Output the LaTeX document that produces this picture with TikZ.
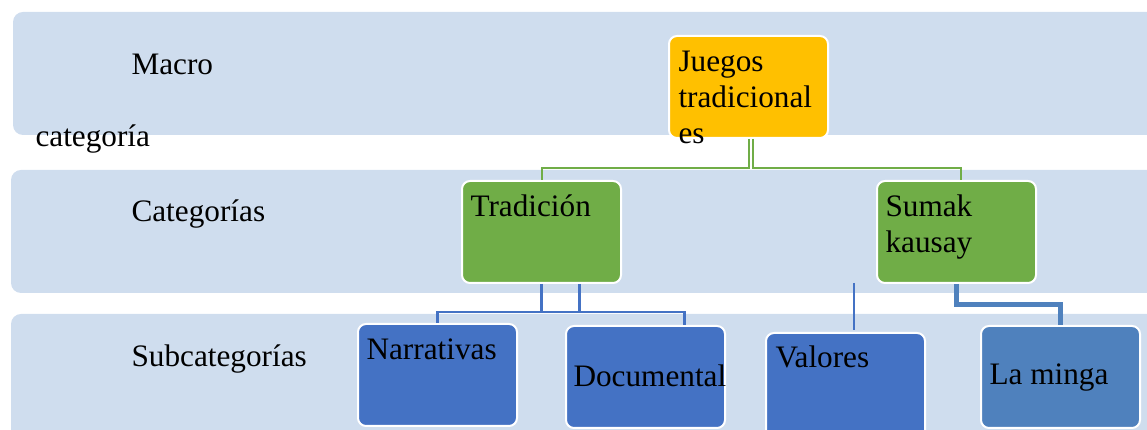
\documentclass[tikz,border=0pt]{standalone}
\usepackage{fontspec}
\setmainfont{Liberation Serif}
\newfontfamily\timesfont{Liberation Serif}
\usetikzlibrary{positioning}
\definecolor{bandblue}{HTML}{CFDDEE}
\definecolor{gold}{HTML}{FFC000}
\definecolor{leaf}{HTML}{70AD47}
\definecolor{royal}{HTML}{4472C4}
\definecolor{steel}{HTML}{4F81BD}

\begin{document}
\begin{tikzpicture}[
    x=0.4pt, y=-0.4pt,
    font=\timesfont\fontsize{12.5}{14.4}\selectfont,
    band/.style = {fill=bandblue, rounded corners=4pt},
    box/.style = {draw=white, line width=0.8pt, rounded corners=3.2pt, minimum width=63.6pt, minimum height=40.8pt, inner sep=0pt, anchor=north west},
    txt/.style = {inner sep=0pt, anchor=base west},
    gline/.style = {draw=leaf, line width=0.8pt},
    bline/.style = {draw=royal, line width=0.9pt},
    mline/.style = {draw=steel, line width=2pt}
  ]
  \useasboundingbox (0,0) rectangle (1147,430);
  % franjas de fondo
  \fill[band] (13,12) rectangle (1170,135);
  \fill[band] (11,170) rectangle (1170,293);
  \fill[band] (11,314) rectangle (1170,450);
  \node[txt] (lmacro) at (131,75) {Macro};
  \node[txt] (lcat) at (35,147) {categoría};
  \node[txt] (lcats) at (131,222) {Categorías};
  \node[txt] (lsub) at (131,367) {Subcategorías};
  % cajas
  \node[box, fill=gold] (juegos) at (668,35) {};
  \node[box, fill=leaf] (trad) at (461,180) {};
  \node[box, fill=leaf] (sumak) at (876,180) {};
  \node[box, fill=royal] (narr) at (357,323) {};
  \node[box, fill=royal] (doc) at (565,325) {};
  \node[box, fill=royal, minimum height=44pt] (valores) at (765,332) {};
  \node[box, fill=steel] (minga) at (980,325) {};
  % textos de las cajas
  \node[txt] at ([shift={(10,37)}]juegos.north west) {\parbox[t]{80pt}{Juegos\\tradicional\\es}};
  \node[txt] at ([shift={(9,37)}]trad.north west) {Tradición};
  \node[txt] at ([shift={(9,37)}]sumak.north west) {\parbox[t]{80pt}{Sumak\\kausay}};
  \node[txt] at ([shift={(9,37)}]narr.north west) {Narrativas};
  \node[txt] at ([shift={(8,62)}]doc.north west) {Documental};
  \node[txt] at ([shift={(10,36)}]valores.north west) {Valores};
  \node[txt] at ([shift={(9,60)}]minga.north west) {La minga};
  % conectores
  \draw[gline] (juegos.south) -- ++(0,29) -| (trad.north);
  \draw[gline] ([xshift=1.6pt]juegos.south) -- ++(0,29) -| ([xshift=1.8pt]sumak.north);
  \coordinate (docin) at ([xshift=15.6pt]doc.north);
  \draw[bline] (trad.south) -- ++(0,28) -| (narr.north);
  \draw[bline] (trad.south) ++(0,28) -| (docin);
  \draw[bline] ([xshift=15.2pt]trad.south) -- ++(0,28);
  \coordinate (valtop) at (854,283);
  \draw[bline] (valtop) -- ([yshift=0.8pt]valores.north -| valtop);
  \draw[mline] (sumak.south) -- ++(0,21) -| (minga.north);
\end{tikzpicture}
\end{document}
